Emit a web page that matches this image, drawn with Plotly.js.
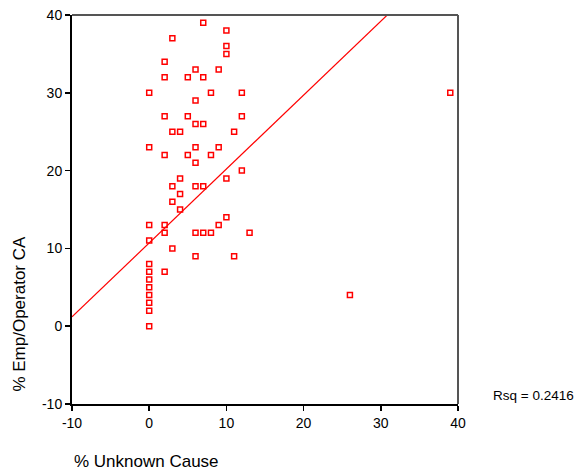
<!DOCTYPE html>
<html>
<head>
<meta charset="utf-8">
<script src="https://cdn.plot.ly/plotly-3.0.1.min.js"></script>
<style>html,body{margin:0;padding:0;background:#fff;}#chart{width:578px;height:472px;}</style>
</head>
<body>
<div id="chart"></div>
<script>
// % Unknown Cause (x) vs % Emp/Operator CA (y)
const unknownCause = [7,10,3,10,10,2,6,9,2,5,7,0,8,12,39,6,2,5,12,6,7,3,4,11,0,6,9,2,5,8,6,12,4,10,3,6,7,4,3,4,10,0,2,9,2,6,7,8,13,0,3,6,11,0,2,0,0,0,0,26,0,0,0];
const empOperatorCA = [39,38,37,36,35,34,33,33,32,32,32,30,30,30,30,29,27,27,27,26,26,25,25,25,23,23,23,22,22,22,21,20,19,19,18,18,18,17,16,15,14,13,13,13,12,12,12,12,12,11,10,9,9,8,7,7,6,5,4,4,3,2,0];
// Linear fit parameters
const fitIntercept = 10.7;
const fitSlope = 0.95;
const fitRsq = "0.2416";
const xRange = [-10, 40];
const yRange = [-10, 40];
const tickVals = [-10, 0, 10, 20, 30, 40];

const fitX = xRange.slice();
const fitY = fitX.map(v => fitIntercept + fitSlope * v);

const font = "Liberation Sans, Arial, sans-serif";

const traces = [
  {
    x: fitX, y: fitY, mode: "lines", type: "scatter",
    line: {color: "#ff0000", width: 1.2}, hoverinfo: "skip", showlegend: false
  },
  {
    x: unknownCause, y: empOperatorCA, mode: "markers", type: "scatter",
    marker: {symbol: "square-open", size: 5, color: "#ff0000", line: {width: 1.5, color: "#ff0000"}},
    showlegend: false
  }
];

const layout = {
  width: 578, height: 472,
  margin: {l: 72, r: 120, t: 15, b: 68, pad: 0},
  paper_bgcolor: "#ffffff", plot_bgcolor: "#ffffff",
  font: {family: font, size: 14, color: "#000"},
  showlegend: false,
  xaxis: {
    range: xRange, tickvals: tickVals, ticktext: tickVals.map(String),
    showgrid: false, zeroline: false, showline: true, linecolor: "#000", linewidth: 2,
    ticks: "outside", ticklen: 5, tickwidth: 1.5, tickcolor: "#000",
    tickfont: {family: font, size: 14, color: "#000"}, fixedrange: true
  },
  yaxis: {
    range: yRange, tickvals: tickVals, ticktext: tickVals.map(String),
    showgrid: false, zeroline: false, showline: true, linecolor: "#000", linewidth: 2,
    ticks: "outside", ticklen: 5, tickwidth: 1.5, tickcolor: "#000",
    tickfont: {family: font, size: 14, color: "#000"}, fixedrange: true
  },
  shapes: [
    {type: "line", xref: "paper", yref: "paper", x0: 0, x1: 1, y0: 1, y1: 1, line: {color: "#555", width: 2}},
    {type: "line", xref: "paper", yref: "paper", x0: 1, x1: 1, y0: 0, y1: 1, line: {color: "#555", width: 2}}
  ],
  annotations: [
    {text: "% Emp/Operator CA", xref: "paper", yref: "paper", x: -0.137, y: 0.2327,
     xanchor: "center", yanchor: "middle", textangle: -90, showarrow: false,
     font: {family: font, size: 17, color: "#000"}},
    {text: "% Unknown Cause", xref: "paper", yref: "paper", x: 0, y: -0.149,
     xanchor: "left", yanchor: "middle", showarrow: false,
     font: {family: font, size: 17, color: "#000"}},
    {text: "Rsq = " + fitRsq, xref: "paper", yref: "paper", x: 1.0855, y: 0.0206,
     xanchor: "left", yanchor: "middle", showarrow: false,
     font: {family: font, size: 13.5, color: "#000"}}
  ]
};

Plotly.newPlot("chart", traces, layout, {displayModeBar: false, staticPlot: true});
</script>
</body>
</html>
